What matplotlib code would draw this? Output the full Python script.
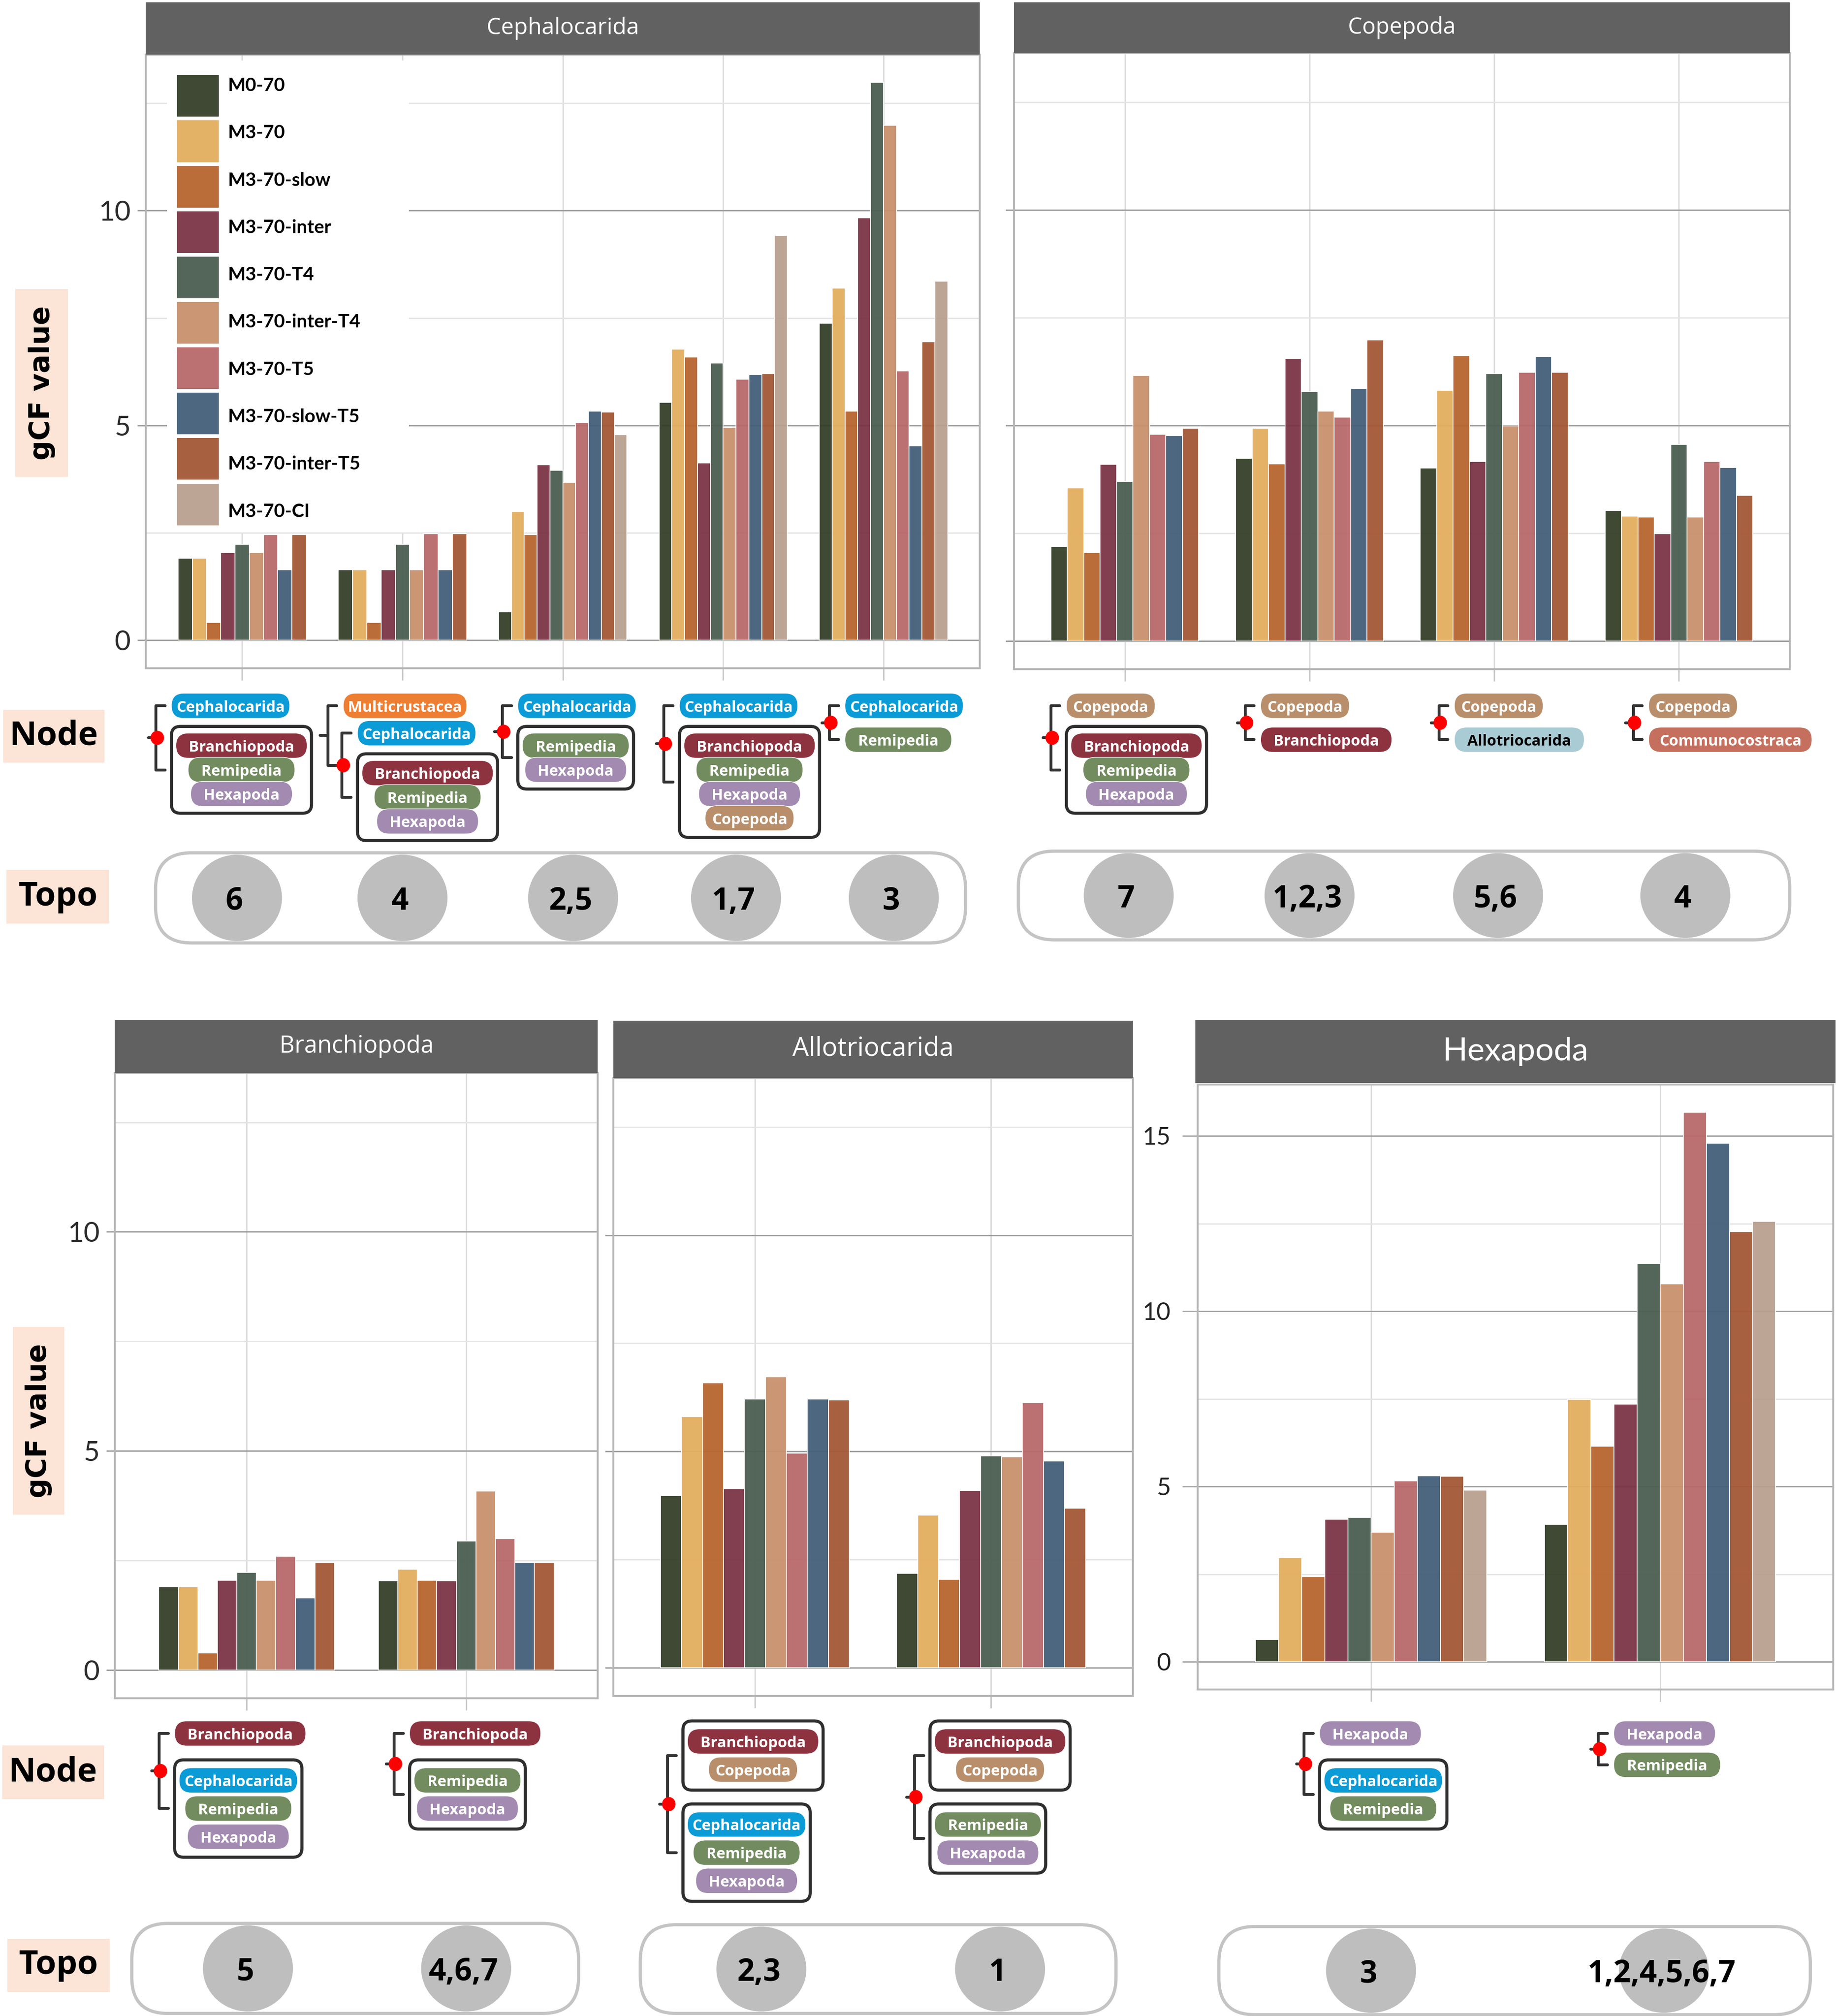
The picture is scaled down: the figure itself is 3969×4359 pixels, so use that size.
import os
import numpy as np
import matplotlib
matplotlib.use('Agg')
import matplotlib.pyplot as plt
from matplotlib.font_manager import FontProperties
from matplotlib.patches import FancyBboxPatch, Rectangle, Ellipse
from matplotlib.lines import Line2D

NAN = np.nan

# ---------------------------------------------------------------- data
models = ['M0-70', 'M3-70', 'M3-70-slow', 'M3-70-inter', 'M3-70-T4',
          'M3-70-inter-T4', 'M3-70-T5', 'M3-70-slow-T5', 'M3-70-inter-T5', 'M3-70-CI']
model_colors = ['#343f29', '#e3ae5f', '#b8652e', '#7a3445', '#4a5e50',
                '#c8916c', '#b8686a', '#445f79', '#a45836', '#b9a08f']

ceph_topos = ['6', '4', '2,5', '1,7', '3']
ceph_gcf = [
    [1.91, 1.91, 0.41, 2.04, 2.23, 2.04, 2.46, 1.64, 2.46, NAN],
    [1.64, 1.64, 0.41, 1.64, 2.23, 1.64, 2.48, 1.64, 2.48, NAN],
    [0.66, 3.00, 2.46, 4.08, 3.95, 3.68, 5.06, 5.33, 5.31, 4.78],
    [5.54, 6.77, 6.59, 4.13, 6.45, 4.96, 6.08, 6.18, 6.20, 9.42],
    [7.38, 8.20, 5.33, 9.83, 12.98, 11.98, 6.27, 4.52, 6.95, 8.36],
]
cope_topos = ['7', '1,2,3', '5,6', '4']
cope_gcf = [
    [2.19, 3.55, 2.05, 4.10, 3.70, 6.16, 4.80, 4.76, 4.93, NAN],
    [4.24, 4.93, 4.11, 6.56, 5.78, 5.33, 5.19, 5.86, 6.98, NAN],
    [4.01, 5.81, 6.62, 4.16, 6.20, 4.99, 6.23, 6.60, 6.23, NAN],
    [3.03, 2.90, 2.88, 2.49, 4.56, 2.88, 4.16, 4.02, 3.38, NAN],
]
branch_topos = ['5', '4,6,7']
branch_gcf = [
    [1.90, 1.90, 0.39, 2.04, 2.22, 2.04, 2.59, 1.64, 2.45, NAN],
    [2.03, 2.30, 2.04, 2.03, 2.94, 4.08, 2.99, 2.45, 2.44, NAN],
]
allo_topos = ['2,3', '1']
allo_gcf = [
    [3.98, 5.80, 6.59, 4.14, 6.21, 6.72, 4.96, 6.21, 6.19, NAN],
    [2.18, 3.53, 2.04, 4.09, 4.90, 4.88, 6.13, 4.78, 3.69, NAN],
]
hexa_topos = ['3', '1,2,4,5,6,7']
hexa_gcf = [
    [0.64, 2.97, 2.44, 4.07, 4.12, 3.70, 5.16, 5.31, 5.30, 4.90],
    [3.93, 7.49, 6.15, 7.36, 11.37, 10.78, 15.68, 14.79, 12.28, 12.57],
]

# node diagrams: tuple = bifurcation, list = boxed clade group, str = single clade
ceph_nodes = [
    ('Cephalocarida', ['Branchiopoda', 'Remipedia', 'Hexapoda']),
    ('Multicrustacea', ('Cephalocarida', ['Branchiopoda', 'Remipedia', 'Hexapoda'])),
    ('Cephalocarida', ['Remipedia', 'Hexapoda']),
    ('Cephalocarida', ['Branchiopoda', 'Remipedia', 'Hexapoda', 'Copepoda']),
    ('Cephalocarida', 'Remipedia'),
]
cope_nodes = [
    ('Copepoda', ['Branchiopoda', 'Remipedia', 'Hexapoda']),
    ('Copepoda', 'Branchiopoda'),
    ('Copepoda', 'Allotriocarida'),
    ('Copepoda', 'Communocostraca'),
]
branch_nodes = [
    ('Branchiopoda', ['Cephalocarida', 'Remipedia', 'Hexapoda']),
    ('Branchiopoda', ['Remipedia', 'Hexapoda']),
]
allo_nodes = [
    (['Branchiopoda', 'Copepoda'], ['Cephalocarida', 'Remipedia', 'Hexapoda']),
    (['Branchiopoda', 'Copepoda'], ['Remipedia', 'Hexapoda']),
]
hexa_nodes = [
    ('Hexapoda', ['Cephalocarida', 'Remipedia']),
    ('Hexapoda', 'Remipedia'),
]

clade_colors = {
    'Cephalocarida': '#0b9bd6', 'Multicrustacea': '#ee7e32', 'Branchiopoda': '#8d3340',
    'Remipedia': '#728c5f', 'Hexapoda': '#a28ab0', 'Copepoda': '#b98f6b',
    'Allotriocarida': '#a9cbd3', 'Communocostraca': '#c5705e',
}

panels = [
    ('Cephalocarida', ceph_topos, ceph_gcf, ceph_nodes),
    ('Copepoda', cope_topos, cope_gcf, cope_nodes),
    ('Branchiopoda', branch_topos, branch_gcf, branch_nodes),
    ('Allotriocarida', allo_topos, allo_gcf, allo_nodes),
    ('Hexapoda', hexa_topos, hexa_gcf, hexa_nodes),
]

# ---------------------------------------------------------------- layout (reference px units)
PW, PH = 1428.0, 1568.0
SC = 3969.0 / PW
LAYOUT = {
    'Cephalocarida': dict(area=(113.5, 42.5, 762, 519.7), strip=(113.5, 1.7, 762, 42.5), row='top',
                          ylabels=True, lato=False, strip_w=118.4, caps=(121, 663.3, 751, 733.4),
                          offs=[-67, -58, -47, -46, -42], topo_dx=[-4, 0, 8, 10, 8]),
    'Copepoda': dict(area=(788.7, 41.5, 1392, 520.4), strip=(788.7, 1.7, 1392, 41.5), row='top',
                     ylabels=False, lato=False, strip_w=83.5, caps=(792, 662, 1392, 731),
                     offs=[-57.5, -50, -43, -35.5], topo_dx=[3, 0, 3, 5]),
    'Branchiopoda': dict(area=(89.4, 834.4, 465, 1320.9), strip=(89.4, 793, 465, 834.4), row='bottom',
                         ylabels=True, lato=False, strip_w=119.5, caps=(102.5, 1496, 450, 1566),
                         offs=[-68, -56], topo_dx=[1, 0]),
    'Allotriocarida': dict(area=(477, 838.5, 881, 1319), strip=(477, 794, 881, 838.5), row='bottom',
                           ylabels=False, lato=False, strip_w=125, caps=(498, 1497, 868, 1566),
                           offs=[-68, -59.5], topo_dx=[5, 7]),
    'Hexapoda': dict(area=(931.5, 843.7, 1426, 1314), strip=(929.7, 793, 1427.5, 842.3), row='bottom',
                     ylabels=True, lato=True, strip_w=113.3, caps=(948, 1498.4, 1408, 1567),
                     offs=[-52, -48], topo_dx=[0, 3]),
}
ROWSTYLE = {
    'top': dict(y0=539.2, pill_h=19.5, step=18.8, gap=6.3, gap_ss=6.9, gap_tree=1.8, pad=5.2),
    'bottom': dict(y0=1338.5, pill_h=19.5, step=21.9, gap=10.8, gap_ss=4.9, gap_tree=1.8, pad=6.2),
}
PILL_W = {'Cephalocarida': 92, 'Multicrustacea': 96, 'Branchiopoda': 102, 'Remipedia': 83,
          'Hexapoda': 79, 'Copepoda': 69, 'Allotriocarida': 101, 'Communocostraca': 127}
PEACH = '#fce4d6'
LABEL_BOXES = [
    ('gCF value', (12, 225, 53, 371), 90), ('gCF value', (10, 1032, 50, 1178), 90),
    ('Node', (2.5, 552, 81.4, 593), 0), ('Topo', (5, 676.6, 85, 718.3), 0),
    ('Node', (1.7, 1357.7, 80.8, 1399.3), 0), ('Topo', (5.7, 1507.8, 85.4, 1549.3), 0),
]


def frac_rect(x0, y0, x1, y1):
    return [x0 / PW, 1 - y1 / PH, (x1 - x0) / PW, (y1 - y0) / PH]


# ---------------------------------------------------------------- fonts
FP_OPEN_B = FontProperties(family=['Open Sans', 'DejaVu Sans'], weight='bold')
FP_OPEN = FontProperties(family=['Open Sans', 'DejaVu Sans'], weight='normal')
FP_LATO_B = FontProperties(family=['Lato', 'DejaVu Sans'], weight='bold')
FP_LATO = FontProperties(family=['Lato', 'Open Sans', 'DejaVu Sans'], weight='normal')
FP_GCF = FontProperties(family='DejaVu Sans', weight='bold')

fig = plt.figure(figsize=(39.69, 43.59), dpi=100)
fig.patch.set_facecolor('white')
renderer = fig.canvas.get_renderer()


def fitted(fp, text, target_w):
    f = fp.copy()
    f.set_size(20)
    t = fig.text(0, 0, text, fontproperties=f)
    w = t.get_window_extent(renderer=renderer).width / SC
    t.remove()
    g = fp.copy()
    g.set_size(20 * target_w / w)
    return g


fp_pill = fitted(FP_OPEN_B, 'Branchiopoda', 82)
fp_leg = fitted(FP_LATO_B, 'M3-70-inter-T4', 103.6)
fp_lab = fitted(FP_OPEN_B, 'Node', 69)
fp_topo = fitted(FP_OPEN_B, '1,2,4,5,6,7', 115)
fp_tick = fitted(FP_LATO, '10', 25)
fp_tick_lato = fitted(FP_LATO, '10', 22)
fp_gcf = fitted(FP_GCF, 'gCF value', 120)

# ---------------------------------------------------------------- bar panels
shared_max = np.nanmax(np.concatenate([np.ravel(ceph_gcf), np.ravel(cope_gcf),
                                       np.ravel(branch_gcf), np.ravel(allo_gcf)]))
hexa_max = np.nanmax(np.array(hexa_gcf, float))

tick_pos = {}
for name, topos, gcf, nodes in panels:
    L = LAYOUT[name]
    ymax = hexa_max if name == 'Hexapoda' else shared_max
    ax = fig.add_axes(frac_rect(*L['area']))
    vals = np.array(gcf, float)
    for gi, row in enumerate(vals):
        idx = np.where(~np.isnan(row))[0]
        w = 0.8 / len(idx)
        xs = gi + 1 - 0.4 + w * (np.arange(len(idx)) + 0.5)
        ax.bar(xs, row[idx], width=w, color=[model_colors[k] for k in idx], alpha=0.95,
               edgecolor='white', linewidth=1.3, zorder=3)
    ax.set_xlim(0.4, len(topos) + 0.6)
    ax.set_ylim(-0.05 * ymax, 1.05 * ymax)
    ax.set_xticks(np.arange(1, len(topos) + 1))
    ax.set_xticklabels([])
    major = np.arange(0, 1.05 * ymax, 5.0)
    minor = major + 2.5
    minor = minor[minor < 1.05 * ymax]
    ax.set_yticks(major)
    ax.set_yticks(minor, minor=True)
    ax.set_axisbelow(True)
    ax.grid(True, which='major', axis='y', color='#9e9e9e', lw=2.2)
    ax.grid(True, which='minor', axis='y', color='#e4e4e4', lw=2.0)
    ax.grid(True, which='major', axis='x', color='#dcdcdc', lw=2.2)
    for sp in ax.spines.values():
        sp.set_color('#b5b5b5')
        sp.set_linewidth(3)
    ax.tick_params(axis='x', which='major', length=19, width=2.2, color='#c8c8c8', direction='out')
    ax.tick_params(axis='y', which='minor', length=0)
    if L['lato']:
        ax.tick_params(axis='y', which='major', length=24, width=2.2, color='#a8a8a8', pad=18)
        ax.set_yticklabels(['%d' % v for v in major], fontproperties=fp_tick_lato, color='#222222')
    else:
        ax.tick_params(axis='y', which='major', length=13, width=2.2, color='#9e9e9e', pad=11)
        if L['ylabels']:
            ax.set_yticklabels(['%d' % v for v in major], fontproperties=fp_tick, color='#2b2b2b')
        else:
            ax.set_yticklabels([])
    # strip
    sax = fig.add_axes(frac_rect(*L['strip']))
    sax.set_facecolor('#616161')
    sax.set_xticks([])
    sax.set_yticks([])
    for sp in sax.spines.values():
        sp.set_visible(False)
    fp_s = fitted(FP_LATO if L['lato'] else FP_OPEN, name, L['strip_w'])
    sax.text(0.5, 0.5, name, transform=sax.transAxes, ha='center', va='center',
             color='white', fontproperties=fp_s)
    # tick positions in reference px
    xs = []
    for i in range(len(topos)):
        d = ax.transData.transform((i + 1, 0))
        fx, fy = fig.transFigure.inverted().transform(d)
        xs.append(fx * PW)
    tick_pos[name] = xs

# ---------------------------------------------------------------- overlay (legend, node, topo)
ov = fig.add_axes([0, 0, 1, 1])
ov.set_xlim(0, PW)
ov.set_ylim(PH, 0)
ov.axis('off')
ov.patch.set_alpha(0)
ov.set_zorder(5)

# legend
ov.add_patch(Rectangle((130, 47), 188, 367, fc='white', ec='none', zorder=11))
for i, (m, c) in enumerate(zip(models, model_colors)):
    ov.add_patch(Rectangle((137.7, 58.4 + 35.3 * i), 32.6, 32.4, fc=c, ec='none', alpha=0.95, zorder=12))
    ov.text(177.3, 66.7 + 36.8 * i, m, fontproperties=fp_leg, color='black', ha='left',
            va='center', zorder=12)

# peach labels
for txt, (x0, y0, x1, y1), rot in LABEL_BOXES:
    ov.add_patch(Rectangle((x0, y0), x1 - x0, y1 - y0, fc=PEACH, ec='none', zorder=11))
    ov.text((x0 + x1) / 2, (y0 + y1) / 2, txt, rotation=rot, ha='center', va='center',
            fontproperties=(fp_gcf if rot else fp_lab), color='black', zorder=12)


def draw_pill(name, xl, yt, st):
    w = PILL_W[name]
    h = st['pill_h']
    ov.add_patch(FancyBboxPatch((xl, yt), w, h, boxstyle='round,pad=0,rounding_size=%f' % (h / 2 - 0.2),
                                fc=clade_colors[name], ec='white', lw=1.0, zorder=14))
    ov.text(xl + w / 2, yt + h / 2, name, fontproperties=fp_pill, ha='center', va='center_baseline',
            color='black' if name == 'Allotriocarida' else 'white', zorder=15)


def draw_group(names, xl, yt, st):
    n = len(names)
    h_in = st['pill_h'] + st['step'] * (n - 1)
    bw = max(PILL_W[nm] for nm in names) + 7
    bh = h_in + 2 * st['pad']
    ov.add_patch(FancyBboxPatch((xl, yt), bw, bh, boxstyle='round,pad=0,rounding_size=7',
                                fc='white', ec='#2e2e2e', lw=4.8, zorder=13))
    cx = xl + bw / 2
    for i, nm in enumerate(names):
        draw_pill(nm, cx - PILL_W[nm] / 2, yt + st['pad'] + i * st['step'], st)
    return yt + bh / 2, yt + bh


def kind(c):
    if isinstance(c, tuple):
        return 'tree'
    if isinstance(c, list):
        return 'group'
    return 'pill'


def draw_tree(node, bx, yt, st):
    y = yt
    anchors = []
    has_sub = False
    for ci, child in enumerate(node):
        k = kind(child)
        if ci > 0:
            pk = kind(node[ci - 1])
            if k == 'tree':
                y += st['gap_tree']
            elif k == 'pill' and pk == 'pill':
                y += st['gap_ss']
            else:
                y += st['gap']
        if k == 'tree':
            ibx = bx + 11
            a, b = draw_tree(child, ibx, y, st)
            anchors.append((a, ibx))
            has_sub = True
        elif k == 'group':
            a, b = draw_group(child, bx + 12, y, st)
            anchors.append((a, bx + 7))
        else:
            draw_pill(child, bx + 12, y, st)
            a, b = y + st['pill_h'] / 2, y + st['pill_h']
            anchors.append((a, bx + 7))
        y = b
    (ya, xa), (yb, xb) = anchors
    ov.add_line(Line2D([xa, bx, bx, xb], [ya, ya, yb, yb], lw=4.5, color='#333333',
                       solid_joinstyle='round', solid_capstyle='round', zorder=13))
    mid = (ya + yb) / 2
    ov.add_line(Line2D([bx - 6, bx], [mid, mid], lw=4.5, color='#333333',
                       solid_capstyle='round', zorder=13))
    if not has_sub:
        ov.add_patch(Ellipse((bx + 1, mid), 10.5, 11, fc='#ff0000', ec='none', zorder=16))
    return mid, y


for name, topos, gcf, nodes in panels:
    L = LAYOUT[name]
    st = ROWSTYLE[L['row']]
    xs = tick_pos[name]
    for node, x, off in zip(nodes, xs, L['offs']):
        draw_tree(node, x + off, st['y0'], st)
    # topo capsule
    cx0, cy0, cx1, cy1 = L['caps']
    cy = (cy0 + cy1) / 2
    ov.add_patch(FancyBboxPatch((cx0, cy0), cx1 - cx0, cy1 - cy0,
                                boxstyle='round,pad=0,rounding_size=28', fc='white', ec='none', zorder=11))
    for t, x, dx in zip(topos, xs, L['topo_dx']):
        ov.add_patch(Ellipse((x + dx, cy), 70, cy1 - cy0 - 3, fc='#bebebe', ec='none', zorder=12))
        ov.text(x + dx - 2, cy, t, fontproperties=fp_topo, ha='center', va='center_baseline',
                color='black', zorder=14)
    ov.add_patch(FancyBboxPatch((cx0, cy0), cx1 - cx0, cy1 - cy0,
                                boxstyle='round,pad=0,rounding_size=28', fc='none', ec='#c4c4c4',
                                lw=5, zorder=13))

fig.savefig('out.png', dpi=100, facecolor='white')
